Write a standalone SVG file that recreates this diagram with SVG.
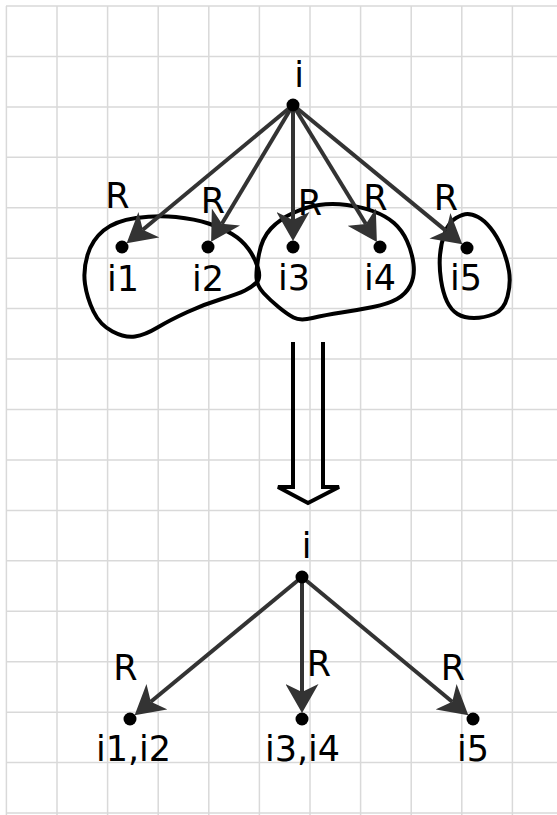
<svg xmlns="http://www.w3.org/2000/svg" width="557" height="815" viewBox="0 0 557 815">
<style>
.grid{stroke:#d9d9d9;stroke-width:1.5;fill:none}
.blob{fill:none;stroke:#000;stroke-width:4;stroke-linejoin:round}
.edge{stroke:#333;stroke-width:4;fill:none}
.dot{fill:#000}
.lbl{font-family:"DejaVu Sans",sans-serif;font-size:35px;fill:#000;text-anchor:middle}
</style>
<defs>
<marker id="ah" viewBox="0 0 29 33" markerWidth="29" markerHeight="33" refX="8" refY="16.5" orient="auto" markerUnits="userSpaceOnUse">
<path d="M29,16.5 L0,0 L8,16.5 L0,33 Z" fill="#333"/>
</marker>
</defs>
<rect width="557" height="815" fill="#fff"/>
<g id="grid" class="grid">
<path d="M6.4,6V815M57,6V815M107.6,6V815M158.2,6V815M208.8,6V815M259.4,6V815M310,6V815M360.6,6V815M411.2,6V815M461.8,6V815M512.4,6V815"/>
<path d="M6,6H557M6,56.4H557M6,106.9H557M6,157.3H557M6,207.8H557M6,258.2H557M6,308.6H557M6,359.1H557M6,409.5H557M6,459.9H557M6,510.4H557M6,560.8H557M6,611.3H557M6,661.7H557M6,712.2H557M6,762.6H557M6,813H557"/>
</g>
<g id="groups">
<path id="blob-i1-i2" class="blob" d="M85,284 Q83,270 87.5,255 Q92,240 103.5,230.5 Q115,221 136,218 Q157,215 176,217 Q195,219 208.5,223.5 Q222,228 232,234 Q242,240 248.5,249 Q255,258 258,268 Q261,278 256.5,282.5 Q252,287 245,290.5 Q238,294 221.5,299 Q205,304 187.5,312 Q170,320 157.5,327.5 Q145,335 135,336.5 Q125,338 112.5,331.5 Q100,325 93.5,311.5 Q87,298 85,284 Z"/>
<path id="blob-i3-i4" class="blob" d="M256.5,278 Q256,270 259,254 Q262,238 271,228.5 Q280,219 293,213 Q306,207 319,205 Q332,203 347,205 Q362,207 374,211.5 Q386,216 394,223 Q402,230 407,241 Q412,252 413.5,264 Q415,276 410.5,285 Q406,294 397,299 Q388,304 373,307 Q358,310 341.5,312.5 Q325,315 312.5,318 Q300,321 293.5,317.5 Q287,314 278.5,307 Q270,300 263.5,293 Q257,286 256.5,278 Z"/>
<path id="blob-i5" class="blob" d="M467.5,214 Q463,214 456,218 Q449,222 445,232.5 Q441,243 440,255 Q439,267 441,280 Q443,293 447,301.5 Q451,310 457.5,314 Q464,318 474,318 Q484,318 494,314 Q504,310 507.5,296.5 Q511,283 509,271 Q507,259 502,247.5 Q497,236 490.5,228 Q484,220 478,217 Q472,214 467.5,214 Z"/>
</g>
<g id="transform-arrow">
<path d="M293,342 L293,487 L278,487 L308,503 L339,487 L323,487 L323,342" fill="none" stroke="#000" stroke-width="4" stroke-linejoin="miter"/>
</g>
<g id="connectors">
<line class="edge" x1="293" y1="105" x2="142.8" y2="229.8" marker-end="url(#ah)"/>
<line class="edge" x1="293" y1="105" x2="221.9" y2="223.8" marker-end="url(#ah)"/>
<line class="edge" x1="293" y1="105" x2="293" y2="220" marker-end="url(#ah)"/>
<line class="edge" x1="293" y1="105" x2="365.9" y2="224" marker-end="url(#ah)"/>
<line class="edge" x1="293" y1="105" x2="446.1" y2="230.9" marker-end="url(#ah)"/>
<line class="edge" x1="302" y1="577" x2="150.8" y2="701.8" marker-end="url(#ah)"/>
<line class="edge" x1="302" y1="577" x2="302" y2="692" marker-end="url(#ah)"/>
<line class="edge" x1="302" y1="577" x2="452.2" y2="701.8" marker-end="url(#ah)"/>
<g class="lbl">
<text x="117.5" y="208">R</text>
<text x="213" y="213">R</text>
<text x="310" y="215">R</text>
<text x="375.5" y="210">R</text>
<text x="446" y="210">R</text>
<text x="125.5" y="680">R</text>
<text x="319" y="675.5">R</text>
<text x="453" y="680">R</text>
</g>
</g>
<g id="node-i-top"><circle class="dot" cx="293" cy="105" r="6.5"/><text class="lbl" x="299" y="87">i</text></g>
<g id="node-i1"><circle class="dot" cx="122" cy="247" r="6.5"/><text class="lbl" x="123" y="291">i1</text></g>
<g id="node-i2"><circle class="dot" cx="208" cy="247" r="6.5"/><text class="lbl" x="208" y="291">i2</text></g>
<g id="node-i3"><circle class="dot" cx="293" cy="247" r="6.5"/><text class="lbl" x="294" y="290">i3</text></g>
<g id="node-i4"><circle class="dot" cx="380" cy="247" r="6.5"/><text class="lbl" x="380" y="290">i4</text></g>
<g id="node-i5"><circle class="dot" cx="467" cy="248" r="6.5"/><text class="lbl" x="466" y="290">i5</text></g>
<g id="node-i-bottom"><circle class="dot" cx="302" cy="577" r="6.5"/><text class="lbl" x="306.5" y="558">i</text></g>
<g id="node-i1i2"><circle class="dot" cx="130" cy="719" r="6.5"/><text class="lbl" x="133.5" y="761">i1,i2</text></g>
<g id="node-i3i4"><circle class="dot" cx="302" cy="719" r="6.5"/><text class="lbl" x="302.5" y="761">i3,i4</text></g>
<g id="node-i5b"><circle class="dot" cx="473" cy="719" r="6.5"/><text class="lbl" x="473" y="761">i5</text></g>
</svg>
